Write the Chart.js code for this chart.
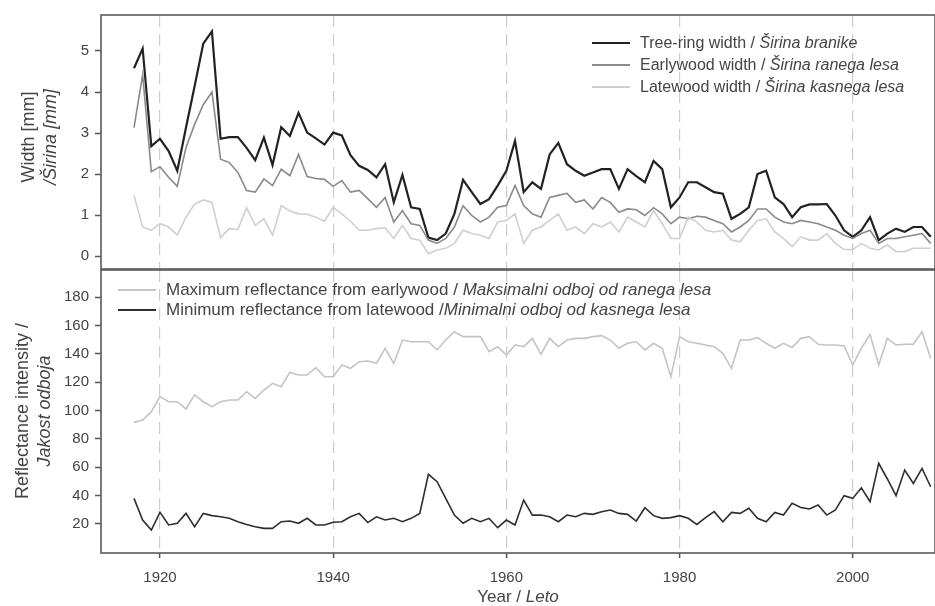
<html>
<head>
<style>
body { margin: 0; background: #fff; }
#wrap { position: relative; width: 935px; height: 606px; overflow: hidden; font-family: "Liberation Sans", Arial, sans-serif; color: #444; }
canvas { position: absolute; left: 0; top: 0; }
.ytitle { position: absolute; transform: translate(-50%, -50%) rotate(-90deg); white-space: nowrap; font-size: 18px; }
.xtitle { position: absolute; transform: translate(-50%, -50%); white-space: nowrap; font-size: 17px; }
.legend { position: absolute; font-size: 16px; }
.legend div { display: flex; align-items: center; white-space: nowrap; }
.legend .sw { display: inline-block; width: 38px; height: 0; margin-right: 10px; }
</style>
</head>
<body>
<div id="wrap">
  <canvas id="topChart" width="935" height="606"></canvas>
  <canvas id="bottomChart" width="935" height="606"></canvas>

  <div class="ytitle" style="left:28px;top:137px">Width [mm]</div>
  <div class="ytitle" style="left:50px;top:137px"><i>/Širina [mm]</i></div>
  <div class="ytitle" style="left:22px;top:411px">Reflectance intensity /</div>
  <div class="ytitle" style="left:44px;top:411px"><i>Jakost odboja</i></div>
  <div class="xtitle" style="left:518px;top:597px">Year / <i>Leto</i></div>

  <div class="legend" style="left:592px;top:32px">
    <div style="height:22px"><span class="sw" style="border-top:2px solid #222"></span>Tree-ring width /&nbsp;<i>Širina branike</i></div>
    <div style="height:22px"><span class="sw" style="border-top:2px solid #8a8a8a"></span>Earlywood width /&nbsp;<i>Širina ranega lesa</i></div>
    <div style="height:22px"><span class="sw" style="border-top:2px solid #cfcfcf"></span>Latewood width /&nbsp;<i>Širina kasnega lesa</i></div>
  </div>
  <div class="legend" style="left:118px;top:280px;font-size:17px">
    <div style="height:20px"><span class="sw" style="border-top:2px solid #c4c4c4"></span>Maximum reflectance from earlywood /&nbsp;<i>Maksimalni odboj od ranega lesa</i></div>
    <div style="height:20px"><span class="sw" style="border-top:2px solid #2e2e2e"></span>Minimum reflectance from latewood /<i>Minimalni odboj od kasnega lesa</i></div>
  </div>
</div>

<script src="https://cdn.jsdelivr.net/npm/chart.js@4.4.0/dist/chart.umd.min.js"></script>
<script>
const years = [
  1917, 1918, 1919, 1920, 1921, 1922, 1923, 1924, 1925, 1926,
  1927, 1928, 1929, 1930, 1931, 1932, 1933, 1934, 1935, 1936,
  1937, 1938, 1939, 1940, 1941, 1942, 1943, 1944, 1945, 1946,
  1947, 1948, 1949, 1950, 1951, 1952, 1953, 1954, 1955, 1956,
  1957, 1958, 1959, 1960, 1961, 1962, 1963, 1964, 1965, 1966,
  1967, 1968, 1969, 1970, 1971, 1972, 1973, 1974, 1975, 1976,
  1977, 1978, 1979, 1980, 1981, 1982, 1983, 1984, 1985, 1986,
  1987, 1988, 1989, 1990, 1991, 1992, 1993, 1994, 1995, 1996,
  1997, 1998, 1999, 2000, 2001, 2002, 2003, 2004, 2005, 2006,
  2007, 2008, 2009
];

// widths in mm
const treeRing = [
  4.58, 5.06, 2.68, 2.86, 2.56, 2.08, 3.13, 4.14, 5.18, 5.48,
  2.86, 2.90, 2.90, 2.64, 2.34, 2.89, 2.22, 3.14, 2.93, 3.49,
  3.01, 2.87, 2.72, 3.01, 2.94, 2.46, 2.20, 2.10, 1.92, 2.24,
  1.31, 1.98, 1.19, 1.15, 0.45, 0.39, 0.55, 1.03, 1.86, 1.56,
  1.27, 1.39, 1.72, 2.08, 2.81, 1.56, 1.80, 1.64, 2.48, 2.76,
  2.24, 2.08, 1.96, 2.04, 2.12, 2.12, 1.64, 2.12, 1.95, 1.80,
  2.32, 2.12, 1.19, 1.43, 1.80, 1.80, 1.68, 1.56, 1.52, 0.91,
  1.03, 1.19, 2.00, 2.08, 1.43, 1.27, 0.95, 1.19, 1.26, 1.26,
  1.27, 0.99, 0.63, 0.47, 0.63, 0.95, 0.39, 0.55, 0.67, 0.59,
  0.71, 0.71, 0.47
];
const earlywood = [
  3.13, 4.42, 2.06, 2.18, 1.92, 1.70, 2.64, 3.21, 3.69, 4.00,
  2.36, 2.28, 2.04, 1.60, 1.56, 1.88, 1.72, 2.12, 1.96, 2.48,
  1.94, 1.89, 1.87, 1.70, 1.84, 1.56, 1.60, 1.40, 1.19, 1.43,
  0.83, 1.11, 0.79, 0.75, 0.39, 0.31, 0.43, 0.71, 1.23, 0.99,
  0.83, 0.95, 1.19, 1.23, 1.72, 1.23, 1.03, 0.95, 1.43, 1.48,
  1.53, 1.31, 1.37, 1.15, 1.43, 1.31, 1.07, 1.15, 1.13, 0.99,
  1.18, 1.03, 0.79, 0.95, 0.91, 0.97, 0.95, 0.87, 0.79, 0.59,
  0.71, 0.87, 1.15, 1.15, 0.95, 0.83, 0.79, 0.87, 0.83, 0.79,
  0.71, 0.63, 0.51, 0.43, 0.55, 0.63, 0.31, 0.43, 0.43, 0.47,
  0.51, 0.55, 0.31
];
const latewood = [
  1.48, 0.71, 0.63, 0.79, 0.71, 0.51, 0.95, 1.27, 1.37, 1.31,
  0.45, 0.67, 0.65, 1.18, 0.75, 0.91, 0.51, 1.23, 1.10, 1.03,
  1.02, 0.95, 0.85, 1.19, 1.03, 0.85, 0.63, 0.63, 0.67, 0.69,
  0.43, 0.75, 0.43, 0.39, 0.06, 0.15, 0.19, 0.31, 0.63, 0.55,
  0.51, 0.43, 0.83, 0.87, 1.03, 0.31, 0.63, 0.71, 0.87, 1.03,
  0.63, 0.71, 0.55, 0.79, 0.71, 0.83, 0.59, 0.95, 0.83, 0.71,
  1.11, 0.79, 0.43, 0.43, 0.95, 0.83, 0.63, 0.59, 0.63, 0.39,
  0.35, 0.63, 0.87, 0.91, 0.59, 0.43, 0.23, 0.47, 0.39, 0.39,
  0.55, 0.31, 0.16, 0.16, 0.31, 0.19, 0.15, 0.27, 0.11, 0.11,
  0.19, 0.19, 0.19
];

// reflectance intensity
const maxReflect = [
  91.6, 93.3, 99.2, 109.8, 106.2, 106.2, 101.1, 111.0, 106.2, 102.7,
  106.2, 107.4, 107.4, 113.3, 108.6, 114.5, 119.2, 116.8, 127.0, 125.1,
  125.1, 130.3, 123.9, 123.9, 132.2, 129.8, 134.5, 135.0, 133.3, 144.0,
  133.3, 149.8, 148.6, 148.6, 148.6, 142.8, 149.8, 155.7, 152.2, 152.2,
  152.2, 141.6, 145.1, 139.2, 146.3, 145.1, 151.0, 139.7, 151.0, 145.1,
  149.8, 151.0, 151.0, 152.2, 152.9, 149.8, 144.0, 147.5, 148.6, 142.8,
  147.5, 144.0, 123.9, 152.2, 148.6, 147.5, 146.3, 145.1, 140.4, 129.8,
  149.8, 149.8, 151.5, 147.5, 144.0, 147.5, 144.5, 151.0, 152.2, 146.8,
  146.3, 146.3, 145.6, 132.2, 144.0, 153.8, 132.2, 151.0, 146.3, 146.8,
  146.8, 155.7, 136.9
];
const minReflect = [
  37.9, 22.6, 15.5, 28.0, 19.1, 20.3, 27.3, 17.9, 27.3, 25.7,
  24.9, 23.8, 21.4, 19.5, 17.9, 16.7, 16.7, 21.4, 21.9, 20.3,
  23.8, 19.1, 19.1, 21.0, 21.4, 24.9, 27.3, 20.8, 24.9, 22.6,
  23.8, 21.4, 23.8, 27.3, 54.9, 49.7, 37.9, 26.1, 20.3, 23.8,
  21.4, 23.8, 17.2, 22.6, 19.1, 36.7, 26.1, 26.1, 24.9, 21.4,
  26.1, 24.9, 27.3, 26.6, 28.5, 29.7, 27.3, 26.6, 21.9, 31.3,
  25.7, 23.8, 24.3, 25.7, 23.8, 19.5, 24.3, 28.5, 21.4, 28.0,
  27.3, 30.9, 23.8, 21.4, 28.0, 26.1, 34.4, 31.5, 30.4, 33.2,
  26.1, 29.7, 39.8, 37.9, 45.4, 35.5, 62.7, 51.6, 39.8, 57.9,
  48.5, 59.1, 46.1
];

const yearTicks = [1920, 1940, 1960, 1980, 2000];
const widthTicks = [0, 1, 2, 3, 4, 5];
const reflectTicks = [20, 40, 60, 80, 100, 120, 140, 160, 180];

const fam = '"Liberation Sans", Arial, sans-serif';

function pts(vals) {
  return years.map((yr, i) => ({x: yr, y: vals[i]}));
}

function line(label, vals, color, width) {
  return {label, data: pts(vals), borderColor: color, borderWidth: width, pointRadius: 0, tension: 0, fill: false};
}

const framePlugin = {
  id: 'frame',
  afterDatasetsDraw(chart) {
    const a = chart.chartArea, ctx = chart.ctx;
    ctx.save();
    ctx.strokeStyle = '#5a5a5a';
    ctx.lineWidth = 1.6;
    ctx.strokeRect(a.left, a.top, a.right - a.left, a.bottom - a.top);
    ctx.restore();
  }
};

function xAxis(showTicks) {
  return {
    type: 'linear',
    min: 1913.19,
    max: 2009.5,
    afterBuildTicks: s => { s.ticks = yearTicks.map(v => ({value: v})); },
    afterFit: s => { s.height = showTicks ? 53 : 0; },
    grid: {color: '#cccccc', lineWidth: 1.2, drawTicks: showTicks, tickLength: 5, tickColor: '#555', tickWidth: 1.5},
    border: {display: false, dash: [12, 7]},
    ticks: {display: showTicks, color: '#444', font: {family: fam, size: 15}, padding: 11, maxRotation: 0, callback: v => String(v)}
  };
}

function yAxis(min, max, tickVals) {
  return {
    min, max,
    afterBuildTicks: s => { s.ticks = tickVals.map(v => ({value: v})); },
    afterFit: s => { s.width = 101; },
    grid: {drawOnChartArea: false, tickLength: 6, tickColor: '#555', tickWidth: 1.5},
    border: {display: false},
    ticks: {color: '#444', font: {family: fam, size: 15}, padding: 6, callback: v => String(v)}
  };
}

const common = {
  responsive: false,
  animation: false,
  plugins: {legend: {display: false}, tooltip: {enabled: false}}
};

new Chart(document.getElementById('topChart'), {
  type: 'line',
  data: {
    datasets: [
      line('Latewood width', latewood, '#cfcfcf', 1.6),
      line('Earlywood width', earlywood, '#8a8a8a', 1.6),
      line('Tree-ring width', treeRing, '#222', 2.2)
    ]
  },
  options: Object.assign({}, common, {
    layout: {padding: {top: 13, bottom: 337, left: 0, right: 0}},
    scales: {x: xAxis(false), y: yAxis(-0.314, 5.877, widthTicks)}
  }),
  plugins: [framePlugin]
});

new Chart(document.getElementById('bottomChart'), {
  type: 'line',
  data: {
    datasets: [
      line('Maximum reflectance from earlywood', maxReflect, '#c4c4c4', 1.6),
      line('Minimum reflectance from latewood', minReflect, '#2e2e2e', 1.6)
    ]
  },
  options: Object.assign({}, common, {
    layout: {padding: {top: 270, bottom: 0, left: 0, right: 0}},
    scales: {x: xAxis(true), y: yAxis(-0.7, 199.3, reflectTicks)}
  }),
  plugins: [framePlugin]
});
</script>
</body>
</html>
